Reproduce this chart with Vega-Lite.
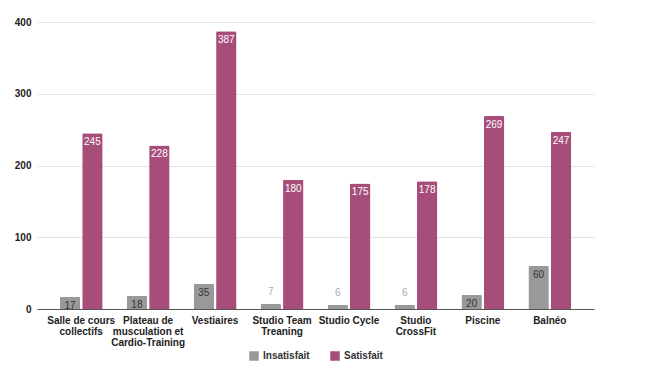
{
  "$schema": "https://vega.github.io/schema/vega-lite/v6.json",
  "autosize": "none",
  "width": 557,
  "height": 287,
  "padding": {"left": 37, "top": 22, "right": 56, "bottom": 58},
  "background": "white",
  "config": {
    "font": "Liberation Sans",
    "view": {"stroke": null}
  },
  "data": {
    "values": [
      {"salle": "Salle de cours collectifs", "avis": "Insatisfait", "n": 17},
      {"salle": "Salle de cours collectifs", "avis": "Satisfait", "n": 245},
      {"salle": "Plateau de musculation et Cardio-Training", "avis": "Insatisfait", "n": 18},
      {"salle": "Plateau de musculation et Cardio-Training", "avis": "Satisfait", "n": 228},
      {"salle": "Vestiaires", "avis": "Insatisfait", "n": 35},
      {"salle": "Vestiaires", "avis": "Satisfait", "n": 387},
      {"salle": "Studio Team Treaning", "avis": "Insatisfait", "n": 7},
      {"salle": "Studio Team Treaning", "avis": "Satisfait", "n": 180},
      {"salle": "Studio Cycle", "avis": "Insatisfait", "n": 6},
      {"salle": "Studio Cycle", "avis": "Satisfait", "n": 175},
      {"salle": "Studio CrossFit", "avis": "Insatisfait", "n": 6},
      {"salle": "Studio CrossFit", "avis": "Satisfait", "n": 178},
      {"salle": "Piscine", "avis": "Insatisfait", "n": 20},
      {"salle": "Piscine", "avis": "Satisfait", "n": 269},
      {"salle": "Balnéo", "avis": "Insatisfait", "n": 60},
      {"salle": "Balnéo", "avis": "Satisfait", "n": 247}
    ]
  },
  "encoding": {
    "x": {
      "field": "salle",
      "type": "nominal",
      "sort": null,
      "scale": {"paddingInner": 0.36, "paddingOuter": 0.34},
      "axis": {
        "title": null,
        "labelAngle": 0,
        "ticks": false,
        "domainColor": "#555555",
        "labelColor": "#222222",
        "labelFontWeight": "bold",
        "labelFontSize": 10,
        "labelLineHeight": 11,
        "labelPadding": 6,
        "labelExpr": "datum.label == 'Salle de cours collectifs' ? ['Salle de cours', 'collectifs'] : datum.label == 'Plateau de musculation et Cardio-Training' ? ['Plateau de', 'musculation et', 'Cardio-Training'] : datum.label == 'Studio Team Treaning' ? ['Studio Team', 'Treaning'] : datum.label == 'Studio CrossFit' ? ['Studio', 'CrossFit'] : datum.label"
      }
    },
    "xOffset": {"field": "avis", "type": "nominal", "scale": {"paddingInner": 0.09}},
    "y": {
      "field": "n",
      "type": "quantitative",
      "scale": {"domain": [0, 400]},
      "axis": {
        "title": null,
        "values": [0, 100, 200, 300, 400],
        "ticks": false,
        "domain": false,
        "gridColor": "#e2e2e2",
        "labelColor": "#222222",
        "labelFontWeight": "bold",
        "labelFontSize": 10,
        "labelPadding": 6
      }
    }
  },
  "layer": [
    {
      "mark": {"type": "bar", "cornerRadiusTopLeft": 1.5, "cornerRadiusTopRight": 1.5},
      "encoding": {
        "color": {
          "field": "avis",
          "type": "nominal",
          "scale": {"domain": ["Insatisfait", "Satisfait"], "range": ["#999999", "#a64d79"]},
          "legend": {
            "title": null,
            "orient": "none",
            "direction": "horizontal",
            "legendX": 212,
            "legendY": 329,
            "symbolType": "square",
            "symbolSize": 90,
            "symbolStrokeWidth": 0,
            "labelFontWeight": "bold",
            "labelFontSize": 10,
            "labelColor": "#333333",
            "columnPadding": 20
          }
        }
      }
    },
    {
      "transform": [{"filter": "datum.n >= 10"}],
      "mark": {"type": "text", "baseline": "top", "dy": 4, "fontSize": 10},
      "encoding": {
        "text": {"field": "n", "type": "quantitative"},
        "fill": {
          "condition": {"test": "datum.avis == 'Satisfait'", "value": "#ffffff"},
          "value": "#333333"
        }
      }
    },
    {
      "transform": [{"filter": "datum.n < 10"}],
      "mark": {"type": "text", "baseline": "bottom", "dy": -7, "fontSize": 10, "color": "#aaaaaa"},
      "encoding": {
        "text": {"field": "n", "type": "quantitative"}
      }
    }
  ]
}
